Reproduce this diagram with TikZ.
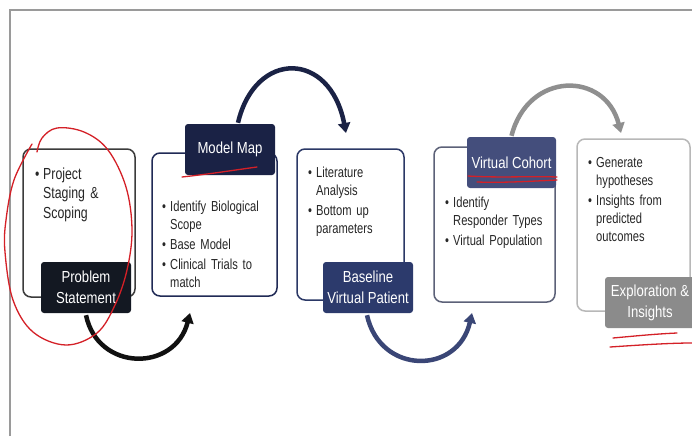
\documentclass[tikz,border=0pt]{standalone}
\usepackage{fontspec}
\setmainfont{Liberation Sans}[FakeStretch=0.82]
\newfontfamily\bulfont{Liberation Sans}[FakeStretch=0.77]
\usetikzlibrary{arrows.meta}
\definecolor{framec}{HTML}{9A9A9A}
\definecolor{bdA}{HTML}{3B3B3B}
\definecolor{bdB}{HTML}{202A55}
\definecolor{bdC}{HTML}{2B3866}
\definecolor{bdD}{HTML}{5C6178}
\definecolor{bdE}{HTML}{B8B8B8}
\definecolor{lbA}{HTML}{131822}
\definecolor{lbB}{HTML}{1A2245}
\definecolor{lbC}{HTML}{2C3A6C}
\definecolor{lbD}{HTML}{444E7C}
\definecolor{lbE}{HTML}{8B8B8B}
\definecolor{arA}{HTML}{111111}
\definecolor{arC}{HTML}{3A4676}
\definecolor{arE}{HTML}{8F8F8F}
\definecolor{redpen}{HTML}{D42027}
\definecolor{txt}{HTML}{262626}
\newcommand\bitem[1]{\noindent\hangindent=8pt\hangafter=1\makebox[8pt][l]{•}#1\par}
\begin{document}
\begin{tikzpicture}[x=1pt,y=-1pt,
  stagebox/.style={draw, line width=1.5pt, rounded corners=8pt, fill=white, inner sep=0pt},
  tagbox/.style={rounded corners=3pt, inner sep=0pt, minimum width=90pt, minimum height=51pt,
    text=white, align=center, font=\fontsize{16}{21}\selectfont},
  bullets/.style={anchor=north west, inner sep=0pt, text width=#1, align=left, text=txt,
    font=\bulfont\fontsize{14.5}{18}\selectfont\setlength{\parskip}{2pt}},
  bulletsbig/.style={anchor=north west, inner sep=0pt, text width=#1, align=left, text=txt,
    font=\bulfont\fontsize{16}{19.5}\selectfont},
  flow/.style={line width=4.5pt, -{Triangle[length=10pt,width=12pt]}},
  pen/.style={draw=redpen, line width=1.3pt, line cap=round, line join=round}]
\useasboundingbox (0,0) rectangle (692,436);
\clip (0,0) rectangle (692,436);
\fill[white] (0,0) rectangle (692,436);
% slide frame
\draw[framec, line width=1.5pt] (10,436) -- (10,10) -- (692,10);
% stage boxes
\node[stagebox, draw=bdA, minimum width=112pt, minimum height=148pt] (b1) at (79,223) {};
\node[stagebox, draw=bdB, minimum width=125pt, minimum height=143pt] (b2) at (214.5,224.5) {};
\node[stagebox, draw=bdC, minimum width=107pt, minimum height=151pt] (b3) at (350.5,224.5) {};
\node[stagebox, draw=bdD, minimum width=121pt, minimum height=155pt] (b4) at (494.5,224.5) {};
\node[stagebox, draw=bdE, minimum width=113pt, minimum height=172pt] (b5) at (633.5,225) {};
% bullet texts
\node[bulletsbig=95pt] (t1) at (35,167.5) {\bitem{Project\newline Staging \&\newline Scoping}};
\node[bullets=105pt] (t2) at (162,201) {\bitem{Identify Biological\newline Scope}\bitem{Base Model}\bitem{Clinical Trials to\newline match}};
\node[bullets=90pt] (t3) at (308,167) {\bitem{Literature\newline Analysis}\bitem{Bottom up\newline parameters}};
\node[bullets=105pt] (t4) at (445,197) {\bitem{Identify\newline Responder Types}\bitem{Virtual Population}};
\node[bullets=95pt] (t5) at (588,157) {\bitem{Generate\newline hypotheses}\bitem{Insights from\newline predicted\newline outcomes}};
% tags
\node[tagbox, fill=lbA] (ps) at (86,287.5) {Problem\\Statement};
\node[tagbox, fill=lbB] (mm) at (230,149.5) {Model Map};
\node[tagbox, fill=lbC] (bvp) at (368,287.5) {Baseline\\Virtual Patient};
\node[tagbox, fill=lbD, minimum width=89pt] (vc) at (511.5,162.5) {Virtual Cohort};
\node[tagbox, fill=lbE] (ei) at (650,302.5) {Exploration \&\\Insights};
% arrow end points
\coordinate (e1) at (190,313);
\coordinate (e2) at (346,133);
\coordinate (e3) at (472,313);
\coordinate (e4) at (621,133);
% connectors
\draw[flow, arA] ([yshift=-2pt]ps.south) .. controls (98,372) and (175,372) .. (e1);
\draw[flow, lbB] ([xshift=8pt,yshift=1pt]mm.north) .. controls (255,50) and (330,50) .. (e2);
\draw[flow, arC] ([xshift=-1pt,yshift=-2pt]bvp.south) .. controls (380,375) and (458,375) .. (e3);
\draw[flow, arE] ([yshift=1pt]vc.north) .. controls (528,71) and (605,71) .. (e4);
% red pen annotations
\draw[pen] plot[smooth, tension=0.6] coordinates {(32,144) (14,180) (6,220) (5,252) (13,300) (33,332) (66,345) (97,333) (115,305) (127,270) (132,230) (126,187) (108,150) (84,132) (57,128) (42,138) (37,152)};
\draw[pen] (182,177) .. controls (210,174) and (235,170) .. (257,167);
\draw[pen] (468,176) .. controls (500,178) and (530,176) .. (557,177);
\draw[pen] (477,182) .. controls (505,183) and (535,181) .. (557,180);
\draw[pen] (613,338) .. controls (635,336) and (655,334) .. (677,333);
\draw[pen] (610,347) .. controls (640,345) and (670,343) .. (692,343);
\end{tikzpicture}
\end{document}
